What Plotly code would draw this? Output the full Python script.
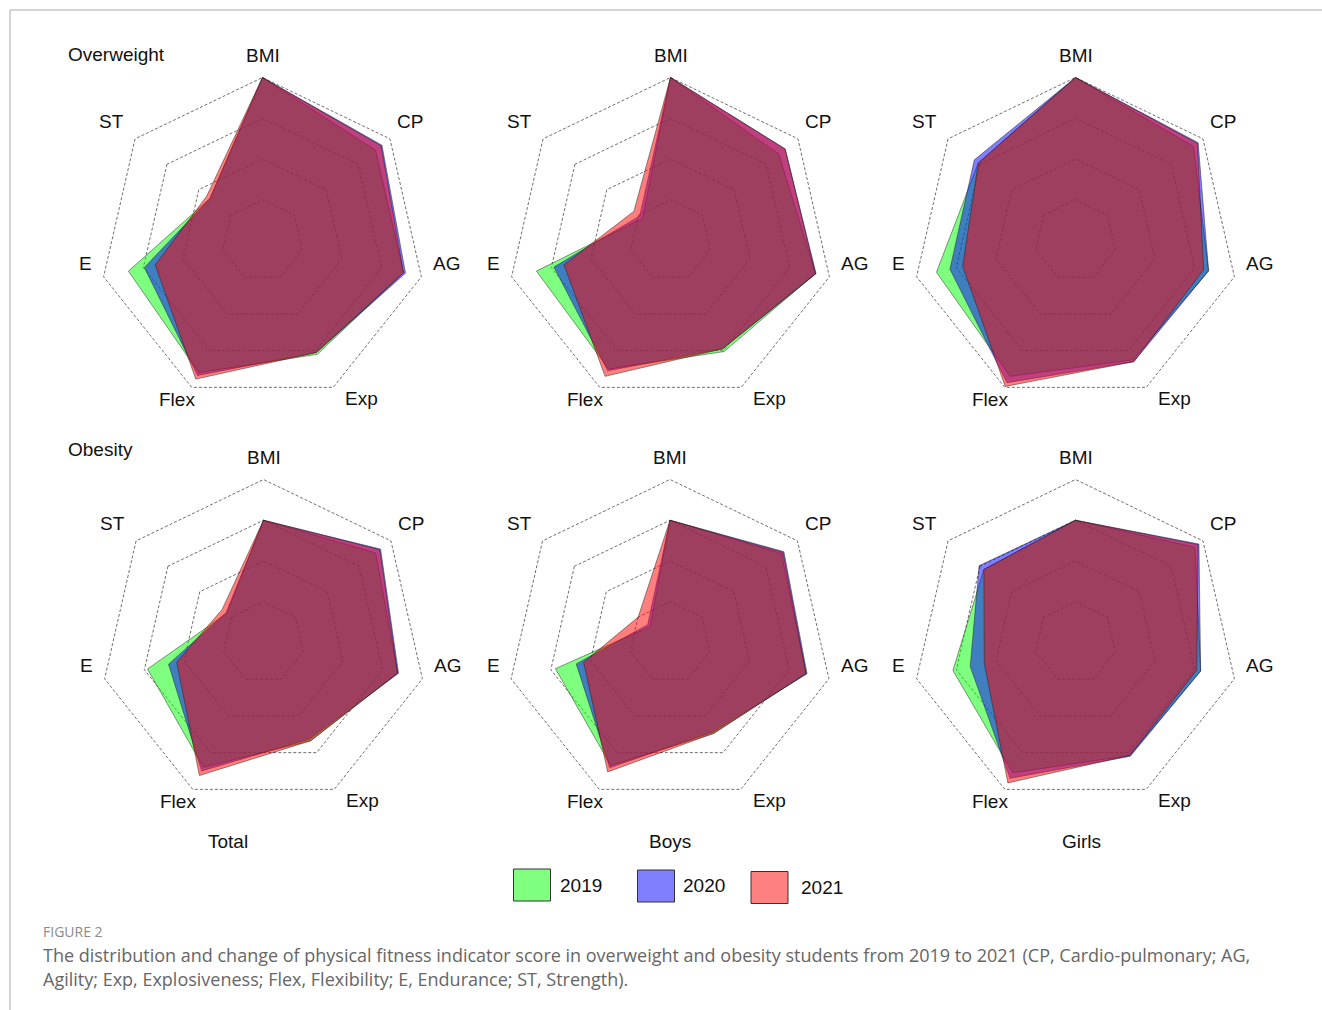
import plotly.graph_objects as go

# ---------------- data ----------------
categories = ["BMI", "CP", "AG", "Exp", "Flex", "E", "ST"]
years = ["2019", "2020", "2021"]

# Overweight
ow_total_2019 = [80, 71.0, 71.0, 62.0, 72.0, 67.5, 33.0]
ow_total_2020 = [80, 75.0, 72.0, 61.0, 73.5, 59.5, 33.0]
ow_total_2021 = [80, 74.5, 71.0, 61.0, 75.5, 54.0, 35.0]

ow_boys_2019 = [80, 68.0, 73.0, 60.5, 70.0, 67.5, 17.5]
ow_boys_2020 = [80, 72.0, 73.3, 59.0, 71.0, 58.7, 19.3]
ow_boys_2021 = [80, 72.0, 73.0, 59.0, 74.0, 53.6, 23.0]

ow_girls_2019 = [80, 74.0, 67.0, 65.0, 74.0, 70.0, 61.0]
ow_girls_2020 = [80, 77.0, 67.0, 66.0, 77.5, 63.2, 63.5]
ow_girls_2021 = [80, 76.5, 64.5, 66.0, 79.5, 56.8, 61.0]

# Obesity
ob_total_2019 = [60, 70.5, 67.5, 53.5, 68.0, 58.4, 23.0]
ob_total_2020 = [60, 73.5, 68.0, 52.5, 70.0, 47.8, 23.5]
ob_total_2021 = [60, 73.0, 67.5, 53.5, 72.5, 43.7, 26.0]

ob_boys_2019 = [60, 70.0, 68.5, 49.5, 67.0, 57.7, 12.5]
ob_boys_2020 = [60, 71.5, 69.0, 48.7, 68.2, 47.2, 14.0]
ob_boys_2021 = [60, 71.0, 68.5, 49.5, 70.5, 43.5, 20.0]

ob_girls_2019 = [60, 75.0, 63.0, 61.5, 71.0, 61.7, 57.5]
ob_girls_2020 = [60, 77.5, 63.0, 62.0, 74.0, 53.0, 60.5]
ob_girls_2021 = [60, 77.0, 61.0, 61.5, 76.5, 45.9, 57.5]

radial_ticks = [20, 40, 60, 80]
radial_max = 80
group_labels = ["Total", "Boys", "Girls"]
row_labels = ["Overweight", "Obesity"]

panels = [
    [ow_total_2019, ow_total_2020, ow_total_2021],
    [ow_boys_2019, ow_boys_2020, ow_boys_2021],
    [ow_girls_2019, ow_girls_2020, ow_girls_2021],
    [ob_total_2019, ob_total_2020, ob_total_2021],
    [ob_boys_2019, ob_boys_2020, ob_boys_2021],
    [ob_girls_2019, ob_girls_2020, ob_girls_2021],
]

# ---------------- styling ----------------
W, H = 1322, 1010
fill_colors = ["rgba(0,255,0,0.5)", "rgba(0,0,255,0.5)", "rgba(255,0,0,0.5)"]
swatch_colors = ["#80ff80", "#8080ff", "#ff8080"]
FONT = "Liberation Sans, Arial, sans-serif"

centers = [(262.5, 240.5), (670.5, 240.5), (1075.5, 240.5),
           (263.5, 642.5), (670.0, 642.5), (1075.5, 642.5)]
RAD80 = 163                      # pixel radius of the outer (80) ring
range_pad = 82                   # axis range upper bound so the 80 ring is drawn
RAD = RAD80 * range_pad / radial_max

# label offsets (pixels from panel centre) for each category label
label_offsets = {"BMI": (0, -185), "CP": (147.5, -119.5), "AG": (184, 23),
                 "Exp": (99, 158), "Flex": (-85.5, 158.5), "E": (-177, 22.5),
                 "ST": (-151, -119)}

annotations = []
def add_text(x, y, text, size=19, color="#111", family=FONT, xanchor="center"):
    annotations.append(dict(x=x / W, y=1 - y / H, xref="paper", yref="paper",
                            text=text, showarrow=False, xanchor=xanchor, yanchor="middle",
                            font=dict(family=family, size=size, color=color)))

fig = go.Figure()
layout_polars = {}
for i, (series, (cx, cy)) in enumerate(zip(panels, centers)):
    pname = "polar" if i == 0 else f"polar{i+1}"
    for k, vals in enumerate(series):
        fig.add_trace(go.Scatterpolar(
            r=vals + [vals[0]],
            theta=categories + [categories[0]],
            mode="lines",
            fill="toself",
            fillcolor=fill_colors[k],
            line=dict(color="rgba(30,30,30,0.8)", width=0.6),
            name=years[k],
            showlegend=False,
            subplot=pname,
            hoverinfo="skip",
        ))
    layout_polars[pname] = dict(
        domain=dict(x=[(cx - RAD) / W, (cx + RAD) / W],
                    y=[1 - (cy + RAD) / H, 1 - (cy - RAD) / H]),
        bgcolor="rgba(0,0,0,0)",
        gridshape="linear",
        radialaxis=dict(range=[0, range_pad], tickvals=radial_ticks, showticklabels=False,
                        ticks="", showline=False, gridcolor="#6e6e6e", gridwidth=0.8,
                        griddash="3px,2px", layer="below traces"),
        angularaxis=dict(rotation=90, direction="clockwise", showgrid=False,
                         showline=False, ticks="", showticklabels=False,
                         layer="below traces"),
    )
    for cat in categories:
        dx, dy = label_offsets[cat]
        add_text(cx + dx, cy + dy, cat)

fig.update_layout(**layout_polars)

add_text(116, 54, row_labels[0])
add_text(100, 450, row_labels[1])
for (gx, gl) in zip([228, 670, 1081], group_labels):
    add_text(gx, 841, gl)

shapes = []
swatch_x = [(513.5, 550.5, 869, 901), (637.5, 674.5, 870, 902), (751, 788, 871.5, 903.5)]
text_x = [558, 681, 799]
text_y = [885, 885, 887]
for k in range(3):
    x0, x1, y0, y1 = swatch_x[k]
    shapes.append(dict(type="rect", xref="paper", yref="paper",
                       x0=x0 / W, x1=x1 / W, y0=1 - y1 / H, y1=1 - y0 / H,
                       fillcolor=swatch_colors[k], line=dict(color="#333", width=1)))
    add_text(text_x[k], text_y[k], years[k], xanchor="left")

# figure frame lines
shapes.append(dict(type="line", xref="paper", yref="paper", x0=10 / W, x1=1, y0=1 - 10 / H, y1=1 - 10 / H,
                   line=dict(color="#aaaaaa", width=1)))
shapes.append(dict(type="line", xref="paper", yref="paper", x0=10 / W, x1=10 / W, y0=0, y1=1 - 10 / H,
                   line=dict(color="#aaaaaa", width=1)))

CAP = "Open Sans, Noto Sans, sans-serif"
add_text(41, 931, "FIGURE 2", size=14, color="#8a8a8a", family=CAP, xanchor="left")
add_text(41, 955, "The distribution and change of physical fitness indicator score in overweight and obesity students from 2019 to 2021 (CP, Cardio-pulmonary; AG,",
         size=18, color="#666666", family=CAP, xanchor="left")
add_text(41, 979, "Agility; Exp, Explosiveness; Flex, Flexibility; E, Endurance; ST, Strength).",
         size=18, color="#666666", family=CAP, xanchor="left")

fig.update_layout(
    width=W, height=H,
    margin=dict(l=0, r=0, t=0, b=0),
    paper_bgcolor="white",
    plot_bgcolor="white",
    showlegend=False,
    annotations=annotations,
    shapes=shapes,
)

fig.write_html("out.html", config={"displayModeBar": False},
               post_script="document.body.style.margin='0';")
